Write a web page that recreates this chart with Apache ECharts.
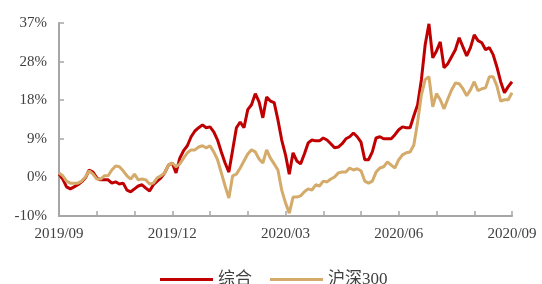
<!DOCTYPE html>
<html>
<head>
<meta charset="utf-8">
<script src="https://cdn.jsdelivr.net/npm/echarts@6/dist/echarts.min.js"></script>
<style>
  html, body { margin: 0; padding: 0; background: #fff; }
  #chart { width: 542px; height: 284px; }
</style>
</head>
<body>
<div id="chart"></div>
<script>
// x 轴: 2019/09 起按月计, 每月 10 个采样点
const monthLabels = ["2019/09", "2019/10", "2019/11", "2019/12", "2020/01", "2020/02",
  "2020/03", "2020/04", "2020/05", "2020/06", "2020/07", "2020/08", "2020/09"];
const stepsPerMonth = 10;
const yTickLabels = ["-10%", "0%", "9%", "18%", "28%", "37%"];
const seriesNames = ["综合", "沪深300"];

const zonghe = [0.2, -1.0, -2.9, -3.4, -2.9, -2.4, -1.7, -0.7, 1.2, 0.7,
  -0.7, -1.2, -1.2, -1.2, -2.0, -1.7, -2.2, -2.0, -3.7, -4.1,
  -3.4, -2.7, -2.4, -3.2, -3.9, -2.4, -1.5, -0.7, 0.5, 2.4,
  2.9, 0.5, 4.1, 5.9, 7.1, 9.3, 10.7, 11.5, 12.2, 11.5,
  11.7, 10.5, 8.5, 5.6, 2.9, 0.7, 6.1, 11.5, 12.9, 11.5,
  15.9, 17.1, 19.8, 17.8, 13.9, 19.0, 18.0, 17.6, 13.4, 8.5,
  4.9, 0.2, 5.4, 3.4, 2.7, 5.1, 7.8, 8.5, 8.3, 8.3,
  9.0, 8.5, 7.6, 6.6, 6.8, 7.6, 8.8, 9.3, 10.2, 9.3,
  8.0, 3.7, 3.7, 5.6, 9.0, 9.3, 8.8, 8.8, 8.8, 9.8,
  11.0, 11.7, 11.5, 11.5, 14.4, 17.1, 23.2, 31.7, 36.8, 28.5,
  30.2, 32.4, 26.1, 27.1, 28.8, 30.5, 33.4, 31.2, 29.0, 31.0,
  34.1, 32.7, 32.2, 30.5, 31.0, 29.3, 26.3, 22.7, 20.0, 21.5,
  22.7];

const hs300 = [0.5, -0.2, -1.5, -2.0, -2.0, -2.0, -1.5, -0.5, 1.0, 0.2,
  -1.0, -1.0, -0.2, -0.2, 1.2, 2.2, 2.0, 1.0, -0.2, -1.0,
  0.2, -1.2, -1.0, -1.2, -2.2, -2.0, -0.7, -0.2, 0.5, 2.4,
  2.9, 2.0, 2.7, 4.1, 5.4, 6.1, 6.1, 6.8, 7.1, 6.6,
  7.1, 5.6, 3.7, 0.5, -2.7, -5.6, -0.2, 0.2, 1.7, 3.4,
  5.1, 6.1, 5.6, 3.9, 2.9, 6.1, 4.1, 2.7, 1.2, -3.7,
  -6.8, -9.3, -5.4, -5.4, -5.1, -4.1, -3.4, -3.7, -2.4, -2.7,
  -1.5, -1.7, -1.0, -0.5, 0.5, 0.7, 0.7, 1.7, 1.2, 1.5,
  1.0, -1.5, -2.0, -1.5, 0.7, 1.7, 2.0, 3.2, 2.4, 1.7,
  3.7, 4.9, 5.4, 5.6, 7.3, 12.9, 19.5, 23.2, 23.9, 16.6,
  19.8, 18.3, 16.1, 18.5, 20.7, 22.4, 22.2, 21.0, 19.3, 20.7,
  22.7, 20.5, 21.0, 21.2, 23.9, 23.9, 21.7, 18.0, 18.3, 18.3,
  20.0];

const toPairs = (arr) => arr.map((v, i) => [i / stepsPerMonth, v]);

const axisColor = "#a6a6a6";
const textColor = "#404040";
const serif = "'Liberation Serif', 'Times New Roman', serif";

const mychart = echarts.init(document.getElementById("chart"));
mychart.setOption({
  animation: false,
  grid: { left: 59, right: 30, top: 23, bottom: 68 },
  legend: {
    left: 155,
    top: 266,
    itemWidth: 53,
    itemHeight: 3,
    itemGap: 18,
    icon: "rect",
    textStyle: { fontSize: 17, color: textColor, fontFamily: "'Liberation Serif', 'Noto Sans CJK SC', serif" },
    data: seriesNames
  },
  xAxis: {
    type: "value",
    min: 0,
    max: monthLabels.length - 1,
    interval: 1,
    axisLine: { onZero: false, lineStyle: { color: axisColor, width: 2 } },
    axisTick: { inside: true, length: 5, lineStyle: { color: axisColor, width: 1.5 } },
    splitLine: { show: false },
    axisLabel: {
      margin: 11,
      fontSize: 15,
      color: textColor,
      fontFamily: serif,
      showMaxLabel: true,
      formatter: (v) => (Math.round(v) % 3 === 0 ? monthLabels[Math.round(v)] : "")
    }
  },
  yAxis: {
    type: "value",
    min: -10,
    max: 37,
    interval: 9.4,
    axisLine: { show: true, onZero: false, lineStyle: { color: axisColor, width: 2 } },
    axisTick: { show: true, inside: true, length: 5, lineStyle: { color: axisColor, width: 1.5 } },
    splitLine: { show: false },
    axisLabel: {
      margin: 12,
      fontSize: 15,
      color: textColor,
      fontFamily: serif,
      formatter: (v) => yTickLabels[Math.round((v + 10) / 9.4)]
    }
  },
  series: [
    {
      name: seriesNames[0],
      type: "line",
      data: toPairs(zonghe),
      showSymbol: false,
      color: "#c00000",
      lineStyle: { width: 3 }
    },
    {
      name: seriesNames[1],
      type: "line",
      data: toPairs(hs300),
      showSymbol: false,
      color: "#d4ab6a",
      lineStyle: { width: 3 }
    }
  ]
});
</script>
</body>
</html>
